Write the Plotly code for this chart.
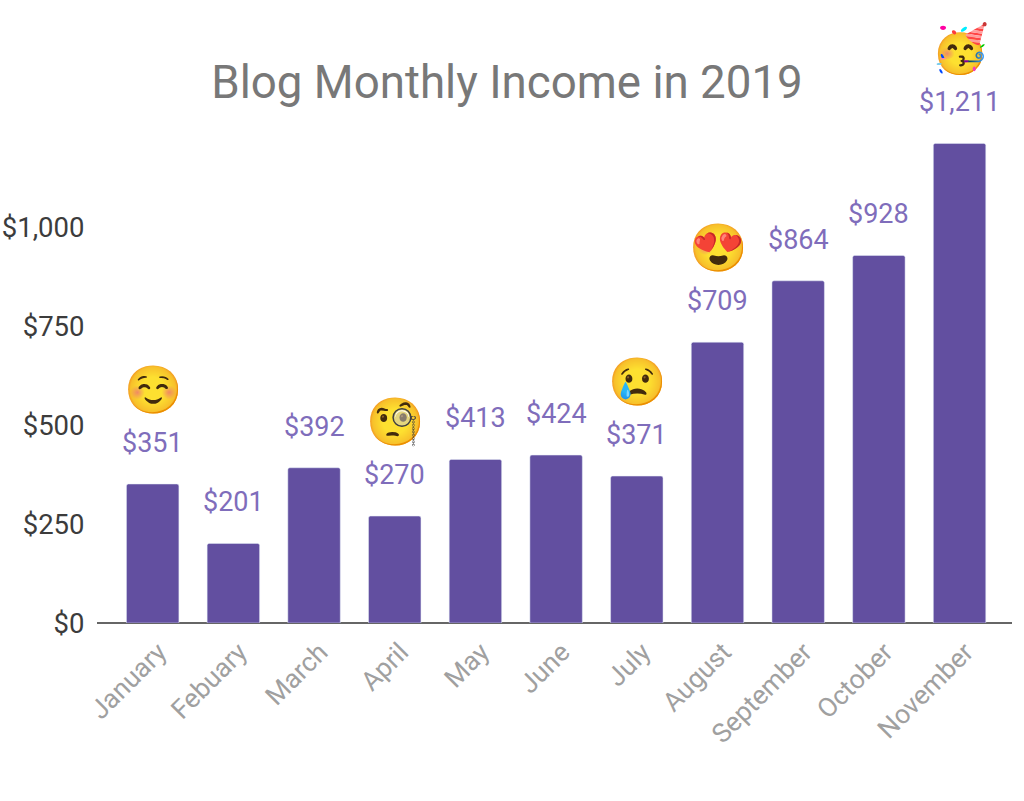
import plotly.graph_objects as go

months = ["January","Febuary","March","April","May","June","July","August","September","October","November"]
income = [351,201,392,270,413,424,371,709,864,928,1211]
value_labels = ["$351","$201","$392","$270","$413","$424","$371","$709","$864","$928","$1,211"]
emoji_months = ["January","April","July","August","November"]
emoji_income = [351,270,371,709,1211]
emoji_text = ["☺️","🧐","😢","😍","🥳"]
y_ticks = [0,250,500,750,1000]
y_labels = ["$0","$250","$500","$750","$1,000"]

purple = "#624fa0"

fig = go.Figure()
fig.add_trace(go.Bar(x=months, y=income, marker_color=purple, width=0.65))

# labels float well above the bars, so annotations with a shift instead of bar text
for m, v, t in zip(months, income, value_labels):
    fig.add_annotation(x=m, y=v, text=t, showarrow=False, yanchor="middle", yshift=41,
                       font=dict(family="Roboto", size=27, color="#7f6dbb"))
for m, v, t in zip(emoji_months, emoji_income, emoji_text):
    fig.add_annotation(x=m, y=v, text=t, showarrow=False, yanchor="middle", yshift=96, xshift=1,
                       font=dict(size=47))

fig.update_layout(
    width=1024, height=801, showlegend=False, plot_bgcolor="white", paper_bgcolor="white",
    margin=dict(l=97, r=12, t=0, b=0), barcornerradius=2,
    title=dict(text="Blog Monthly Income in 2019", x=507/1024, xanchor="center", y=0.8976, yanchor="middle",
               font=dict(family="Roboto", size=45.7, color="#787878")),
)
fig.update_xaxes(domain=[0,1], range=[-0.69,10.65], showline=False, ticks="outside", ticklen=2,
                 tickcolor="rgba(0,0,0,0)", tickangle=-45, automargin=False, ticklabelshift=6,
                 tickfont=dict(family="Roboto", size=26.5, color="#a0a0a0"))
fig.update_yaxes(domain=[0.2222,1], range=[0,1573], tickvals=y_ticks, ticktext=y_labels, showgrid=False,
                 ticks="outside", ticklen=6, tickcolor="rgba(0,0,0,0)", automargin=False,
                 zeroline=True, zerolinecolor="#666666", zerolinewidth=2,
                 tickfont=dict(family="Roboto", size=27.5, color="#3c3c3c"))
# drop the default body margin, the $1,000 label gets clipped otherwise
fig.write_html("out.html", config={"displayModeBar": False}, post_script="document.body.style.margin='0';")
